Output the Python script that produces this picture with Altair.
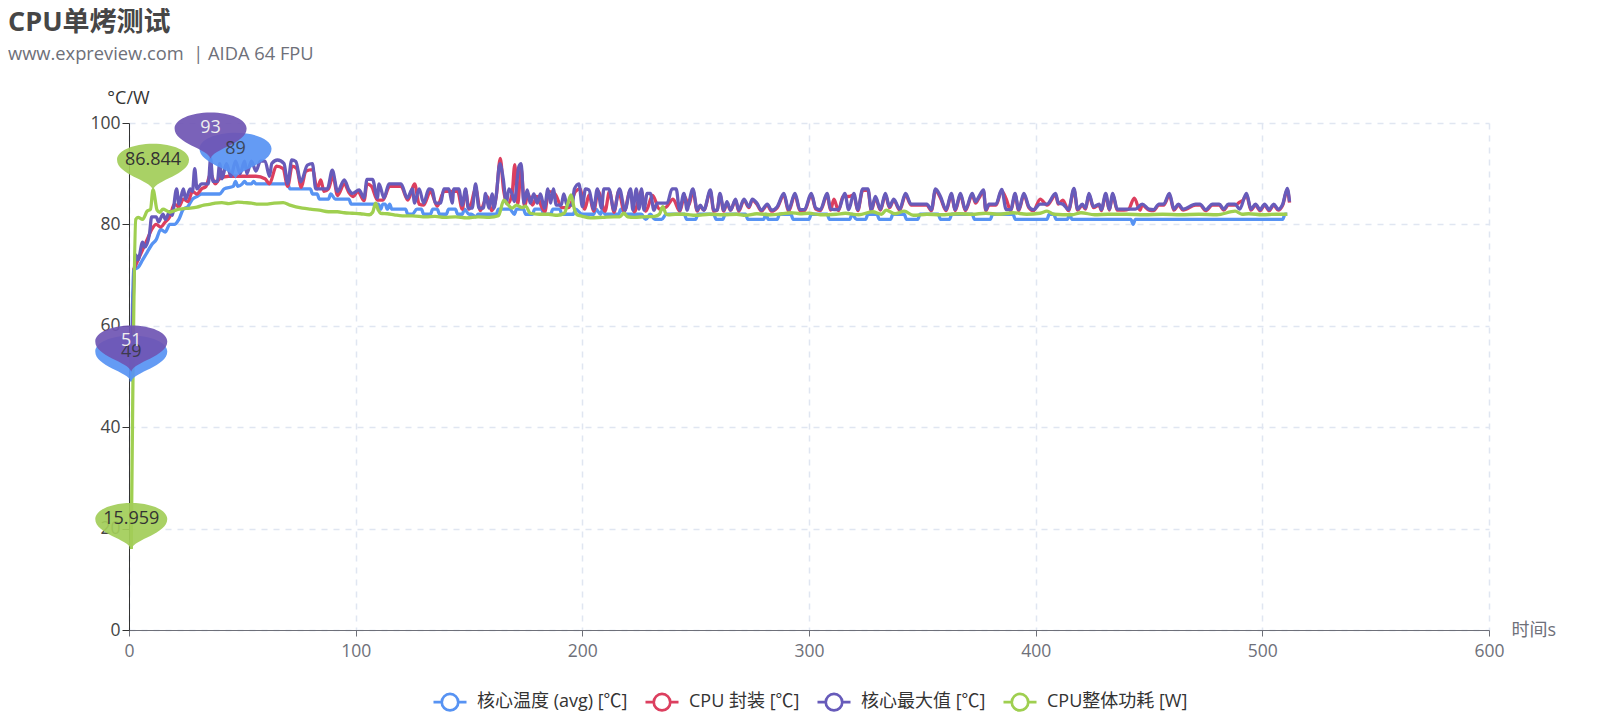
import altair as alt
import pandas as pd

# (time, value), one pair at each visible turn of the line
avg_pts = [
    (1, 49), (2, 71), (4, 71.5), (6, 73), (8, 74.5), (10, 76), (12, 77), (14, 79), (16, 78.5), (18, 80), (20, 80), (22, 81),
    (24, 83), (26, 83.5), (28, 85), (30, 85.5), (32, 86), (40, 86), (42, 87), (46, 87.5), (47, 88.5), (48, 87.5), (50, 88),
    (51, 88.5), (52, 88), (54, 88), (55, 88.5), (56, 88), (70, 88), (71, 87), (80, 87), (81, 86), (83, 86), (84, 85), (88, 85),
    (89, 86), (91, 85), (97, 85), (98, 84), (110, 84), (111, 83), (112, 84), (113, 84), (114, 83), (115, 84), (116, 83),
    (122, 83), (123, 82), (125, 82), (127, 83), (129, 83), (130, 82), (133, 82), (134, 83), (136, 83), (137, 82), (140, 82),
    (141, 83), (144, 83), (145, 82), (147, 82), (148, 83), (150, 82), (151, 82), (153, 81.5), (154, 82), (162, 82), (163, 83),
    (168, 83), (170, 82), (171, 83), (174, 83), (175, 82), (178, 82), (179, 83), (182, 83), (183, 82), (186, 82), (187, 83),
    (190, 83), (191, 82), (196, 82), (197, 83), (200, 82), (205, 82), (206, 83), (208, 82), (209, 83), (210, 82), (216, 82),
    (217, 83), (219, 82), (226, 82), (228, 81), (230, 82), (232, 81), (235, 81), (237, 82), (245, 82), (246, 81), (250, 81),
    (251, 82), (258, 82), (259, 81), (262, 81), (263, 82), (272, 82), (273, 81), (280, 81), (281, 82), (282, 81), (286, 81),
    (287, 82), (292, 82), (293, 81), (300, 81), (301, 82), (308, 82), (309, 81), (318, 81), (319, 82), (321, 81), (325, 81),
    (326, 82), (330, 82), (331, 81), (336, 81), (337, 82), (342, 82), (343, 81), (348, 81), (349, 82), (357, 82), (358, 81),
    (362, 81), (363, 82), (372, 82), (373, 81), (380, 81), (381, 82), (390, 82), (391, 81), (405, 81), (406, 82), (408, 82),
    (409, 81), (414, 81), (415, 82), (416, 81), (442, 81), (443, 80), (444, 81), (508, 81), (509, 81), (510, 82), (511, 82),
]

pkg_pts = [
    (2, 71), (4, 73), (6, 75), (8, 77), (10, 79), (12, 80), (14, 79.5), (16, 80.5), (18, 81.5), (20, 84), (22, 83.5), (24, 85),
    (26, 84.5), (28, 86.5), (30, 86), (32, 87), (34, 87.5), (36, 90), (38, 88), (40, 89), (44, 89.5), (48, 89.5), (52, 89.5),
    (56, 89.5), (60, 89), (62, 88), (65, 91.5), (68, 91), (70, 87.5), (72, 91.5), (74, 91), (76, 87.3), (78, 90.5), (81, 90.8),
    (83, 87), (84.6, 88.8), (86, 86.5), (88, 87), (90, 89.5), (92, 85.7), (95, 88), (97, 86.3), (99, 85.5), (101, 86.5),
    (103.7, 84.7), (105, 88), (107, 87.5), (109.6, 84.8), (112, 84.8), (115, 87.5), (120, 87.5), (123, 84.8), (126, 88),
    (128, 84), (130, 83.8), (133, 86.5), (136, 83.6), (139, 86.5), (141, 86.5), (145, 86.5), (147, 83), (148.5, 86.5),
    (150, 83), (153, 87), (155, 82.7), (158, 85.5), (160, 82.7), (162, 85.5), (163.8, 93), (165.2, 87), (167, 84), (169, 86),
    (170.2, 91.8), (171.5, 84), (173, 91), (174.5, 83.5), (176, 86), (178, 83.8), (180, 85.5), (182, 83.5), (183.5, 82.5),
    (185, 86.5), (188, 86), (191, 83.3), (194, 83.3), (197, 86.5), (199, 87), (201, 83), (203, 85.8), (205, 82.6), (207, 86.5),
    (210, 82.6), (212, 86.5), (214, 82.4), (216, 86.5), (218.5, 82.6), (221, 86.5), (223, 82.5), (226, 86.5), (228, 82.6),
    (231, 85.7), (234, 83), (237, 83.4), (240, 85), (243, 82.6), (245, 85.5), (247, 83.8), (248.8, 86.6), (250.7, 82.6), (252, 83.6),
    (253.6, 82.8), (256.5, 86.4), (258, 82.6), (259.5, 82.8), (260.7, 85.8), (262.4, 82.6), (263.8, 84.2), (265.4, 82.8), (267.6, 84.8),
    (269, 82.6), (271.3, 84.8), (273.5, 83.3), (275, 84.8), (277, 84), (279, 82.6), (281.6, 83.8), (283.5, 82.6), (286, 83.3),
    (288.9, 85.8), (291, 82.6), (293.8, 85.8), (296, 82.7), (298, 82.7), (301, 85.8), (303, 83), (305, 82.7), (308, 85.8), (309.5, 82.8),
    (311, 85), (313, 82.7), (315, 85.5), (317.5, 85.5), (319.8, 85.8), (321.5, 82.7), (323.7, 86.7), (326, 86.7), (327.5, 82.7), (329.3, 85.2),
    (331.5, 82.8), (333.7, 85.8), (335.5, 83.3), (337.4, 84.8), (340, 82.8), (342.6, 85.8), (345, 83.8), (348, 83.8), (352, 83.8),
    (354, 82.7), (355.8, 86.7), (358, 85.2), (360.5, 82.7), (362.8, 85.8), (364.5, 82.7), (366.8, 85.8), (369, 82.7), (372, 85.8),
    (373.5, 84.2), (375, 85.2), (377, 86.5), (378, 82.7), (379.4, 83.8), (382.5, 83.8), (385, 86.6), (387, 85), (389, 82.7), (390.9, 85.8),
    (392.5, 82.7), (394.8, 85.8), (397, 83.3), (399, 82.7), (402, 85), (405, 83.8), (408.8, 85.8), (410, 84), (412, 84.8), (414.5, 82.7),
    (416.9, 86.8), (418.5, 82.8), (420.6, 83.8), (422, 83), (423.5, 85.8), (425.5, 83.3), (428, 83.8), (429, 82.7), (430.9, 85.8),
    (432.5, 82.8), (434, 85.8), (436, 82.8), (439, 82.8), (441, 83), (443.5, 85.2), (446, 82.8), (447, 83.8), (450, 82.8), (452, 82.7),
    (454.4, 83.8), (456.5, 83.8), (459, 85.8), (461, 82.8), (463, 83.8), (465, 82.8), (470.6, 83.8), (472.5, 83.8), (475, 82.7),
    (478, 83.8), (481, 83.8), (483, 82.8), (485, 83.8), (488, 83.8), (490, 84.4), (491.5, 84.8), (493, 85.8), (495, 82.8), (497, 83.8),
    (499, 82.7), (501, 83.8), (503, 82.7), (505, 83.8), (507, 82.8), (509, 83.8), (511, 86.8), (512, 84.3),
]

max_pts = [
    (1, 51), (3, 74), (4, 73), (6, 76.5), (7, 75.5), (9, 78), (10, 81.5), (12, 81.5), (13, 80.5), (15, 82), (16, 81), (18, 82.5),
    (19, 81.8), (21, 87), (22, 84), (24, 87), (25, 85), (27, 87), (28, 86.5), (29, 91), (30, 87), (32, 88), (35, 88), (36, 93),
    (37, 88.5), (39, 88.5), (40, 92), (41, 89), (43, 92), (45, 89.5), (47, 92.5), (49, 90), (51, 92.5), (52, 90), (54, 92.5),
    (56, 90.5), (58, 92.5), (60, 92.5), (62, 89.5), (63, 92), (65.5, 92.7), (68.4, 92), (70, 88), (71.8, 92.7), (73.6, 92.4),
    (75.8, 88.4), (78.7, 91.7), (80.9, 92), (82.4, 87), (85, 87), (87.5, 87), (89.7, 90.7), (92, 86.5), (95, 88.8), (97, 86.8),
    (98.5, 86.1), (101.5, 86.8), (103.7, 85.2), (105, 88.9), (107.4, 88.9), (109.6, 85.2), (110.3, 88), (112.5, 85.2),
    (114.7, 88), (120, 88), (122.8, 85.2), (125, 87), (126, 84.2), (128, 87), (130, 84.2), (132.3, 87), (133.8, 86.8),
    (135.2, 84.2), (137.5, 84.2), (138.9, 87), (141.1, 87), (142.6, 84.2), (143.3, 87), (145.5, 87), (147, 83.8), (148.5, 87),
    (149.7, 83.2), (151.4, 83.2), (152.9, 88), (154.4, 83.2), (156.3, 83.2), (157.3, 86.1), (158.8, 83.2), (160.2, 86),
    (161, 83.2), (162.1, 86), (163.6, 92), (165.1, 89), (166.5, 84.2), (167.6, 87), (169, 86), (170, 84.5), (172, 91.4),
    (173, 92), (174.2, 84.2), (175.7, 86.8), (177, 84.2), (178.6, 86), (180.1, 84.2), (181.5, 86), (183.3, 83.2), (184.8, 87),
    (186, 84.2), (187.2, 87), (188.5, 83.8), (190.7, 83.8), (191.8, 86), (193.3, 83.8), (195.5, 83.8), (196.5, 87), (198.5, 88),
    (200, 83.5), (201.4, 87), (202.9, 86.8), (205, 83), (206.6, 87), (208.5, 83.2), (209.5, 87), (211.7, 87), (214, 82.8),
    (216.4, 87), (218.8, 82.8), (221.3, 87), (222.3, 82.8), (223.8, 87), (225, 83), (226.1, 87), (227.2, 82.8), (228.6, 86.1),
    (230, 86.1), (231.6, 82.8), (233, 84.2), (237.4, 84.2), (239.6, 87), (241.4, 87), (242.9, 82.8), (244.8, 86.1), (246.3, 82.8),
    (247, 84.2), (248.8, 87), (250.7, 82.8), (252, 83.8), (253.6, 82.8), (256.5, 86.8), (258, 82.8), (259.5, 82.8), (260.7, 86.1),
    (262.4, 82.8), (263.8, 84.5), (265.4, 82.8), (267.6, 85), (269, 82.8), (271.3, 85), (273.5, 83.5), (275, 85), (277, 84.2),
    (279, 82.8), (281.6, 84), (283.5, 82.8), (286, 83.5), (288.9, 86.1), (291, 82.9), (293.8, 86.1), (296, 82.9), (298, 82.9),
    (301, 86.1), (303, 83.2), (305, 82.9), (308, 86.1), (309.5, 83), (313, 82.9), (315.8, 86.1), (317.5, 82.9), (319.8, 86.1),
    (321.5, 82.9), (323.7, 87), (326, 87), (327.5, 82.9), (329.3, 85.5), (331.5, 83), (333.7, 86.1), (335.5, 83.5), (337.4, 85),
    (340, 83), (342.6, 86.1), (345, 84), (348, 84), (352, 84), (354, 82.9), (355.8, 87), (358, 85.5), (360.5, 82.9),
    (362.8, 86.1), (364.5, 82.9), (366.8, 86.1), (369, 82.9), (372, 86.1), (373.5, 84.5), (375, 85.5), (377, 86.8), (378, 82.9),
    (379.4, 84), (382.5, 84), (385, 86.9), (387, 82.9), (389, 82.9), (390.9, 86.1), (392.5, 82.9), (394.8, 86.1), (397, 83.5),
    (399, 82.9), (402, 84), (405, 84), (408.8, 86.1), (410, 84.2), (412, 84), (414.5, 82.9), (416.9, 87.1), (418.5, 83),
    (420.6, 84), (422, 83.2), (423.5, 86.1), (425.5, 83.5), (428, 84), (429, 82.9), (430.9, 86.1), (432.5, 83), (434, 86.1),
    (436, 83), (439, 83), (442, 83), (444, 83), (447, 84), (450, 83), (452, 82.9), (454.4, 84), (456.5, 84), (459, 86.1), (461, 83),
    (463, 84), (465, 83), (470.6, 84), (472.5, 84), (475, 82.9), (478, 84), (481, 84), (483, 83), (485, 84), (488, 84), (490, 83),
    (493, 86.1), (495, 83), (497, 84), (499, 82.9), (501, 84), (503, 82.9), (505, 84), (507, 83), (509, 84), (511, 87.1), (512, 84.5),
]

power_pts = [
    (1, 15.959), (3, 81), (4, 81.4), (6, 81), (8, 82.6), (9.5, 83), (10.6, 86.844), (12.4, 82.8), (13.5, 82.4), (15, 83), (17, 82.6),
    (18, 82.4), (20, 82.7), (22, 83), (24, 83.1), (27, 83.2), (30, 83.4), (33, 83.8), (36, 84), (38, 84.2), (41, 84.3), (44, 84.1),
    (48, 84.4), (51, 84.3), (54, 84.2), (57, 84), (60, 84), (64, 84.2), (68, 84.3), (71, 83.8), (76.5, 83.2), (80, 83), (84, 82.8),
    (88, 82.5), (92, 82.5), (95, 82.3), (98.5, 82.2), (102, 82.1), (106, 81.9), (107.5, 82.4), (108.8, 84.2), (110, 82.8), (111, 82.2),
    (114, 82.1), (117, 81.9), (120.6, 81.7), (125, 81.7), (131, 81.5), (135, 81.6), (139, 81.4), (144, 81.5), (149, 81.3), (154, 81.5),
    (159, 81.4), (163, 81.7), (165.4, 84.8), (167, 84), (169, 83.2), (171, 83.8), (173.5, 83.3), (175, 83.6), (177, 82.2), (181, 82),
    (185, 82), (189, 81.8), (192, 82.2), (193.5, 84), (195, 85.8), (196.5, 83), (197.7, 81.9), (200, 81.6), (203.6, 81.3), (209, 81.4),
    (214, 81.5), (216.5, 81.5), (218.3, 82.2), (220, 81.5), (223, 81.4), (227, 81.5), (232, 81.6), (234, 82), (235.5, 83.5), (237, 82),
    (238, 81.9), (241, 82), (245, 82), (250, 81.8), (256, 82), (262, 81.9), (268, 82), (272, 81.8), (277, 82.1), (283, 81.9), (288, 82.1),
    (292, 82.3), (296, 82.1), (300, 82.2), (305, 81.9), (312, 82), (316, 82.2), (322, 81.9), (328, 82.5), (332, 82), (334, 82.8),
    (338, 82.1), (342, 82.6), (346, 81.8), (352, 82), (358, 81.9), (366, 82.1), (372, 82), (378, 82.2), (384, 82), (390, 82.3), (396, 82),
    (402, 82.2), (405, 82.6), (408, 82), (416, 81.9), (420, 82.3), (426, 81.9), (432, 82), (440, 82), (448, 81.9), (456, 82), (464, 81.9),
    (472, 82), (480, 81.9), (488, 82.6), (491, 82), (494, 82.1), (500, 81.9), (506, 82), (511, 82),
]

series_names = ["核心温度 (avg) [℃]", "CPU 封装 [℃]", "核心最大值 [℃]", "CPU整体功耗 [W]"]
series_colors = ["#5793f3", "#dc3f5f", "#675bba", "#9fcf50"]

# max / min callouts
pin_t = [1, 47, 36, 1, 10.6, 1]
pin_v = [49, 89, 93, 51, 86.844, 15.959]
pin_series = [0, 0, 2, 2, 3, 3]
pin_label = ["49", "89", "93", "51", "86.844", "15.959"]

lines = pd.concat(
    [
        pd.DataFrame(pts, columns=["t", "v"]).assign(series=name)
        for pts, name in zip([avg_pts, pkg_pts, max_pts, power_pts], series_names)
    ]
)
pins = pd.DataFrame({"t": pin_t, "v": pin_v, "s": pin_series, "label": pin_label})

FONT = '"Open Sans", "Noto Sans CJK SC"'
# drawn with size=4 so that one path unit is one pixel, tip at the data point
PIN_PATH = "M0,0 C-3,-10 -36,-15 -36,-30 C-36,-39 -20,-46 0,-46 C20,-46 36,-39 36,-30 C36,-15 3,-10 0,0 Z"
# legend key: a line with a hollow circle
KEY_PATH = "M-1,0 L-0.5,0 A0.5,0.5 0 1 1 0.5,0 A0.5,0.5 0 1 1 -0.5,0 M0.5,0 L1,0"

x_enc = alt.X(
    "t:Q",
    scale=alt.Scale(domain=[0, 600], nice=False),
    axis=alt.Axis(
        values=[0, 100, 200, 300, 400, 500, 600],
        title="时间s",
        titleX=1382,
        titleY=0,
        titleAlign="left",
        titleBaseline="middle",
        titleFontWeight="normal",
        titleFontSize=18,
        titleColor="#6E7079",
        labelColor="#6E7079",
        labelFontSize=17.5,
        labelPadding=6,
        labelFlush=False,
        domainColor="#6E7079",
        tickColor="#6E7079",
        tickSize=6,
        grid=True,
        gridColor="#E0E6F1",
        gridDash=[6, 6],
        gridWidth=1.5,
    ),
)
y_enc = alt.Y(
    "v:Q",
    scale=alt.Scale(domain=[0, 100], nice=False),
    axis=alt.Axis(
        values=[0, 20, 40, 60, 80, 100],
        title="°C/W",
        titleX=-1,
        titleY=-25,
        titleAngle=0,
        titleAlign="center",
        titleBaseline="middle",
        titleFontWeight="normal",
        titleFontSize=18,
        titleColor="#333333",
        labelColor="#444444",
        labelFontSize=17.5,
        labelPadding=2,
        labelFlush=False,
        domainColor="#333333",
        tickColor="#333333",
        tickSize=7,
        grid=True,
        gridColor="#E0E6F1",
        gridDash=[6, 6],
        gridWidth=1.5,
    ),
)

line_layer = (
    alt.Chart(lines)
    .mark_line(strokeWidth=3.3, interpolate="monotone")
    .encode(
        x=x_enc,
        y=y_enc,
        color=alt.Color(
            "series:N",
            scale=alt.Scale(domain=series_names, range=series_colors),
            legend=alt.Legend(
                title=None,
                orient="none",
                legendX=303,
                legendY=561,
                direction="horizontal",
                columns=4,
                symbolType=KEY_PATH,
                symbolSize=1090,
                symbolStrokeWidth=2.7,
                symbolFillColor="#ffffff",
                labelFontSize=18,
                labelColor="#333333",
                labelFont=FONT,
                labelOffset=9,
                columnPadding=12,
            ),
        ),
        order=alt.Order("t:Q"),
    )
)


def pin_marker(idx, color):
    return (
        alt.Chart(pins[pins["s"] == idx])
        .mark_point(shape=PIN_PATH, size=4, filled=True, color=color, opacity=0.92)
        .encode(x="t:Q", y="v:Q")
    )


def pin_text(idx, text_color, opacity=1):
    return (
        alt.Chart(pins[pins["s"] == idx])
        .mark_text(
            dy=-30, fontSize=18, font=FONT,
            color=text_color, opacity=opacity, baseline="middle",
        )
        .encode(x="t:Q", y="v:Q", text="label:N")
    )


chart = (
    alt.layer(
        line_layer,
        pin_marker(0, "#5793f3"),
        pin_marker(2, "#6f55b3"),
        pin_text(0, "#333333", 0.8),
        pin_text(2, "#eeeeee"),
        pin_marker(3, "#a2cd58"),
        pin_text(3, "#333333"),
    )
    .properties(
        width=1360,
        height=507,
        autosize=alt.AutoSizeParams(type="none"),
        padding={"left": 121, "top": 115, "right": 100, "bottom": 82},
        title=alt.TitleParams(
            text="CPU单烤测试",
            subtitle="www.expreview.com\u00a0\u00a0| AIDA 64 FPU",
            anchor="start",
            frame="group",
            dx=-121,
            offset=25,
            font=FONT,
            fontSize=27,
            fontWeight="bold",
            color="#464646",
            subtitleFont=FONT,
            subtitleFontSize=18.3,
            subtitleColor="#6E7079",
            subtitlePadding=9,
        ),
    )
    .configure_axis(labelFont=FONT, titleFont=FONT)
    .configure_view(stroke=None)
)

chart.save("out.html", embed_options={"renderer": "svg", "actions": False})
